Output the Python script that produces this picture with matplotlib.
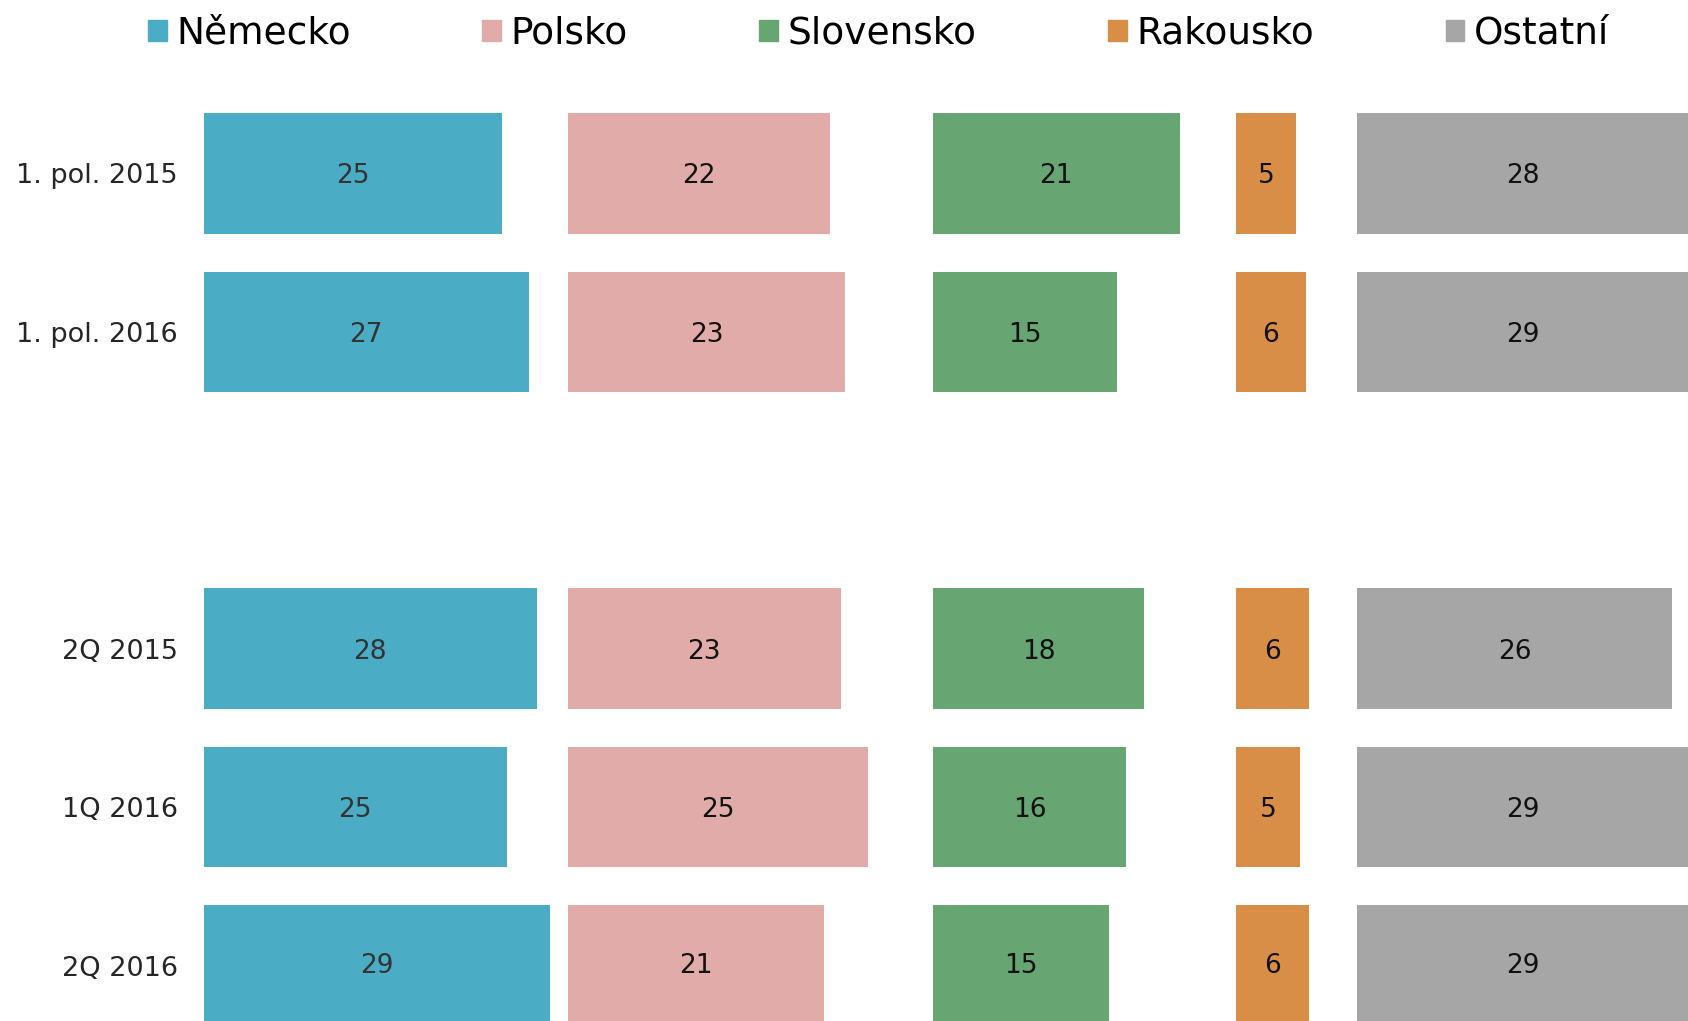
import numpy as np
import matplotlib.pyplot as plt
from matplotlib.patches import Patch

plt.rcParams["font.family"] = ["DejaVu Sans"]

periods = ["1. pol. 2015", "1. pol. 2016", "2Q 2015", "1Q 2016", "2Q 2016"]
countries = ["Německo", "Polsko", "Slovensko", "Rakousko", "Ostatní"]

# shares in %
nemecko = [25.0, 27.2, 27.9, 25.4, 29.0]
polsko = [21.9, 23.2, 22.8, 25.1, 21.4]
slovensko = [20.7, 15.4, 17.7, 16.2, 14.8]
rakousko = [5.0, 5.8, 6.1, 5.3, 6.1]
ostatni = [28.2, 29.0, 26.4, 29.0, 29.0]

colors = ["#4BACC6", "#E1ABAA", "#67A673", "#D98E48", "#A6A6A6"]

# width of each panel in % units (same scale everywhere)
col_span = [30.5, 30.5, 25.4, 10.1, 27.7]

# half-year rows, then an empty row, then the quarters
ypos = np.arange(len(periods)) + (np.arange(len(periods)) >= 2)

fig = plt.figure(figsize=(16.88, 10.21), dpi=100)
gs = fig.add_gridspec(1, 5, left=203.5 / 1688, right=1.0, bottom=0.0,
                      top=1 - 78.3 / 1021, wspace=0, width_ratios=col_span)

series = [nemecko, polsko, slovensko, rakousko, ostatni]
for i, vals in enumerate(series):
    ax = fig.add_subplot(gs[0, i])
    bars = ax.barh(ypos, vals, height=0.76, color=colors[i])
    txts = ax.bar_label(bars, labels=[f"{v:.0f}" for v in vals], label_type="center",
                        fontsize=19, color="#333333" if i == 0 else "#111111")
    for t in txts:
        t.set_va("center_baseline")
    ax.set_xlim(0, col_span[i])
    ax.set_ylim(5.35, -0.6)
    for s in ax.spines.values():
        s.set_visible(False)
    ax.set_xticks([])
    ax.tick_params(length=0)
    if i == 0:
        ax.set_yticks(ypos)
        ax.set_yticklabels(periods, fontsize=19.5, color="#262626")
        ax.tick_params(axis="y", pad=18.5)
    else:
        ax.set_yticks([])

handles = [Patch(color=c) for c in colors]
fig.legend(handles, countries, loc="center", bbox_to_anchor=(0.5205, 1 - 34 / 1021),
           ncol=5, frameon=False, fontsize=27, handlelength=0.5, handleheight=0.5,
           handletextpad=0.26, columnspacing=3.5, borderaxespad=0)

fig.savefig("out.png", dpi=100)
